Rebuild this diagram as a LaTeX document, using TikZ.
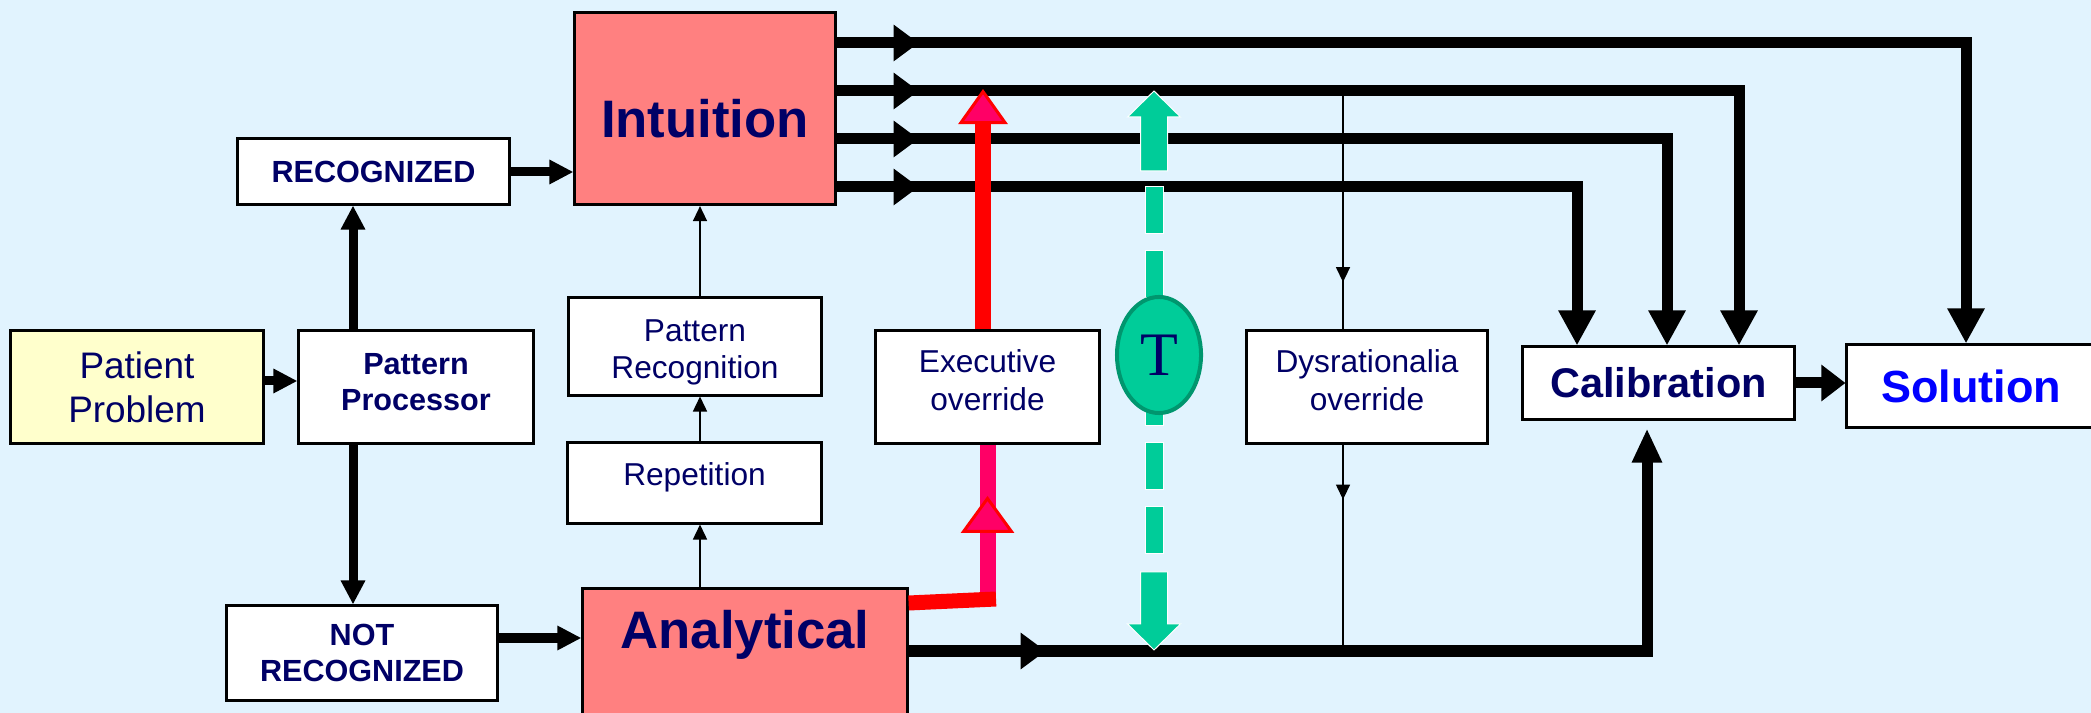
\documentclass[tikz,border=0pt]{standalone}
\usepackage{fontspec}
\setmainfont{Liberation Sans}
\newfontfamily\serifT{Liberation Serif}
\usetikzlibrary{arrows.meta,calc,shapes.geometric,decorations.markings}

\definecolor{bgblue}{RGB}{225,243,254}
\definecolor{navy}{RGB}{0,0,102}
\definecolor{salmon}{RGB}{255,128,128}
\definecolor{paleyellow}{RGB}{255,255,204}
\definecolor{tgreen}{RGB}{0,204,153}
\definecolor{tgreendark}{RGB}{0,150,110}
\definecolor{hotpink}{RGB}{255,0,102}

% invisible struts to nudge box texts up or down
\newcommand\padbelow[1]{\rule[-#1]{0pt}{#1}}
\newcommand\padabove[1]{\rule{0pt}{#1}}

\begin{document}
\begin{tikzpicture}[x=0.01cm, y=-0.01cm,
    box/.style={draw, line width=0.03cm, fill=white, text=navy, align=center, inner sep=0pt},
    smallbold/.style={font=\fontsize{8.7}{10.2}\selectfont\bfseries},
    plain/.style={font=\fontsize{9}{10.6}\selectfont},
    bigbox/.style={box, fill=salmon, font=\fontsize{15}{18}\selectfont\bfseries},
    heavy/.style={line width=0.11cm},
    medium/.style={line width=0.09cm, -{Triangle[length=0.24cm, width=0.23cm]}},
    slim/.style={line width=0.015cm},
    thintip/.style={-{Triangle[length=0.15cm, width=0.14cm]}},
    downtip/.style={-{Triangle[length=0.35cm, width=0.35cm]}},
    midhead/.style={postaction=decorate, decoration={markings,
        mark=at position #1 with {\arrow{Triangle[length=0.25cm, width=0.35cm]}}}},
    thinmid/.style={postaction=decorate, decoration={markings,
        mark=at position #1 with {\arrow{Triangle[length=0.15cm, width=0.14cm]}}}},
    pinkmid/.style={postaction=decorate, decoration={markings,
        mark=at position #1 with {\arrow{Triangle[length=0.37cm, width=0.53cm, fill=hotpink, color=red, line width=0.03cm]}}}},
    tarrow/.style={fill=tgreen, draw=white, line width=0.01cm}
]

% Background
\useasboundingbox (0,0) rectangle (2091,713);
\fill[bgblue] (0,0) rectangle (2091,713);

% Boxes
\node[box, fill=paleyellow, font=\fontsize{10.5}{12.5}\selectfont, minimum width=2.52cm, minimum height=1.12cm] (patient) at (137,387) {Patient\\Problem};
\node[box, smallbold, minimum width=2.34cm, minimum height=1.12cm] (procc) at (416,387) {Pattern\\Processor\padbelow{0.10cm}};
\node[box, smallbold, minimum width=2.71cm, minimum height=0.65cm] (recog) at (373.5,171.5) {RECOGNIZED};
\node[box, smallbold, minimum width=2.70cm, minimum height=0.94cm] (notrecog) at (362,653) {NOT\\RECOGNIZED};
\node[bigbox, anchor=north, minimum width=2.60cm, text height=1.25cm, text depth=0.67cm] (intuition) at (705,11) {Intuition};
\node[bigbox, anchor=north, minimum width=3.24cm, text height=0.60cm, text depth=0.73cm] (analytical) at (745,587) {Analytical};
\node[box, plain, minimum width=2.52cm, minimum height=0.97cm] (patrec) at (695,346.5) {\padabove{0.33cm}Pattern\\Recognition};
\node[box, plain, minimum width=2.53cm, minimum height=0.80cm] (repet) at (694.5,483) {Repetition\padbelow{0.17cm}};
\node[box, plain, minimum width=2.23cm, minimum height=1.12cm] (exec) at (987.5,387) {Executive\\override\padbelow{0.14cm}};
\node[box, plain, minimum width=2.40cm, minimum height=1.12cm] (dysr) at (1367,387) {Dysrationalia\\override\padbelow{0.14cm}};
\node[box, font=\fontsize{11.8}{14}\selectfont\bfseries, minimum width=2.71cm, minimum height=0.72cm] (calib) at (1658.5,383) {Calibration};
\node[box, text=blue, font=\fontsize{12.8}{15}\selectfont\bfseries, minimum width=2.48cm, minimum height=0.82cm] (solution) at (1971,386) {Solution};

% Pattern processor branches
\draw[medium] ([yshift=0.06cm]patient.east) -- ([yshift=0.06cm]procc.west);
\draw[medium] (procc.north -| 353,0) -- (recog.south -| 353,0);
\draw[medium] (procc.south -| 353,0) -- (notrecog.north -| 353,0);
\draw[medium] (recog.east |- 0,172) -- (intuition.west |- 0,172);
\draw[medium] (notrecog.east |- 0,638) -- (analytical.west |- 0,638);

% Learning path
\draw[slim, thintip] (analytical.north -| 700,0) -- (repet.south -| 700,0);
\draw[slim, thintip] (repet.north -| 700,0) -- (patrec.south -| 700,0);
\draw[slim, thintip] (patrec.north -| 700,0) -- (intuition.south -| 700,0);

% Intuition outputs
\foreach \dy/\xc/\dest in {32/1966/solution, 80/1739/calib, 128/1667/calib, 176/1577/calib}
  \draw[heavy, midhead=0.82cm, downtip] ($(intuition.north east)+(0,\dy)$) -| (\dest.north -| \xc,0);

% Analytical output
\draw[heavy, midhead=1.37cm, -{Triangle[length=0.34cm, width=0.28cm]}, shorten >=0.08cm] (analytical.east |- 0,651) -| (calib.south -| 1647,0);
\draw[heavy, -{Triangle[length=0.24cm, width=0.35cm]}] (calib.east) -- (solution.west |- calib.east);

% Dysrationalia override
\coordinate (tapT) at (1343,91);
\coordinate (tapB) at (1343,651);
\draw[slim, thinmid=1.91cm] (tapT) -- (dysr.north -| tapT);
\draw[slim, thinmid=0.55cm] (dysr.south -| tapT) -- (tapB);

% Executive override
\draw[line width=0.16cm, hotpink, pinkmid=1.07cm] (exec.south |- 0,603) -- (exec.south);
\draw[line width=0.15cm, red] (analytical.east |- 0,603) -- (996,599);
\draw[line width=0.16cm, red, -{Triangle[length=0.35cm, width=0.49cm, fill=hotpink, line width=0.03cm]}] (exec.north -| 983,0) -- (983,89);

% Toggle
\fill[tarrow] (1140.5,171) -- (1140.5,117) -- (1127.5,117) -- (1154,91) -- (1180.5,117) -- (1167.5,117) -- (1167.5,171) -- cycle;
\foreach \y in {187,251,...,507}
  \filldraw[tarrow] (1145,\y) rectangle ++(18,47);
\fill[tarrow] (1140.5,572) -- (1140.5,624) -- (1127.5,624) -- (1154,650) -- (1180.5,624) -- (1167.5,624) -- (1167.5,572) -- cycle;
\node[ellipse, draw=tgreendark, line width=0.04cm, fill=tgreen, minimum width=0.84cm, minimum height=1.16cm, inner sep=0pt, text=navy, font=\fontsize{17.6}{20}\selectfont\serifT] (tnode) at (1159,355) {T};

\end{tikzpicture}
\end{document}
